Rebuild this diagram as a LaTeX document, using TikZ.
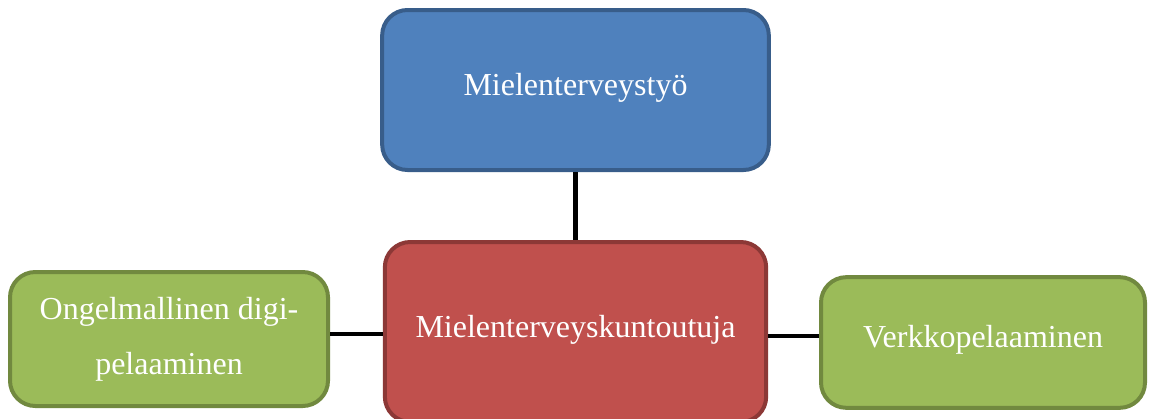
\documentclass[tikz,border=0pt]{standalone}
\usepackage{fontspec}
\setmainfont{Liberation Serif}
\definecolor{blueFill}{HTML}{4F81BD}
\definecolor{blueLine}{HTML}{385D8A}
\definecolor{redFill}{HTML}{C0504D}
\definecolor{redLine}{HTML}{8C3836}
\definecolor{greenFill}{HTML}{9BBB59}
\definecolor{greenLine}{HTML}{71893F}
\tikzset{
	box/.style={rectangle, rounded corners=19pt, line width=3pt, text=white, align=center, inner sep=0pt, font=\fontsize{24}{41}\selectfont},
	topbox/.style={box, fill=blueFill, draw=blueLine},
	midbox/.style={box, fill=redFill, draw=redLine},
	sidebox/.style={box, fill=greenFill, draw=greenLine},
	link/.style={line width=3.6pt, black}
}
\begin{document}
		\begin{tikzpicture}[x=0.75pt,y=0.75pt,yscale=-1,xscale=1]
			\useasboundingbox (0,0) rectangle (1149,418);
			
			%Shape: Rounded Rect [id:top]
			\node [topbox, minimum width=290pt, minimum height=120pt] (tyo) at (575.5,90) {\raisebox{8pt}{Mielenterveystyö}};
			%Shape: Rounded Rect [id:mid]
			\node [midbox, minimum width=286pt, minimum height=135pt] (kuntoutuja) at (575.5,332) {\raisebox{9pt}{Mielenterveyskuntoutuja}};
			%Shape: Rounded Rect [id:left]
			\node [sidebox, minimum width=238.5pt, minimum height=100.5pt] (digi) at (169,339) {Ongelmallinen digi-\\pelaaminen};
			%Shape: Rounded Rect [id:right]
			\node [sidebox, minimum width=243pt, minimum height=98pt] (verkko) at (983,342.5) {\raisebox{9pt}{Verkkopelaaminen}};
			
			%Straight Lines
			\draw [link] ([yshift=1.5pt]kuntoutuja.west) -- ([yshift=1.5pt]kuntoutuja.west -| digi.east);
			\draw [link] ([yshift=3pt]kuntoutuja.east) -- ([yshift=3pt]kuntoutuja.east -| verkko.west);
			\draw [link] (tyo.south) -- (kuntoutuja.north);
		\end{tikzpicture}
\end{document}
